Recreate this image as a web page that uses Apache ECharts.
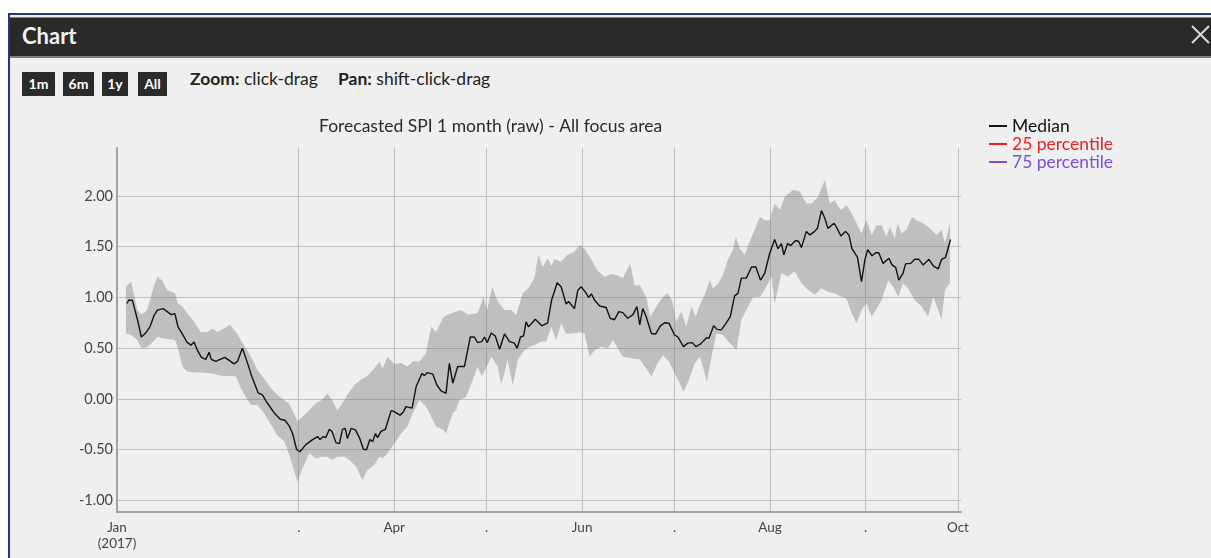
<!DOCTYPE html>
<html>
<head>
<meta charset="utf-8">
<script src="https://cdn.jsdelivr.net/npm/echarts@6/dist/echarts.min.js"></script>
<style>
html,body{margin:0;padding:0;width:1211px;height:558px;overflow:hidden;background:#fff;font-family:Lato,'Open Sans',sans-serif;}
#frame{position:absolute;left:8px;top:13px;width:1210px;height:545px;border-top:2px solid #213a78;border-left:2px solid #213a78;background:#efefef;}
#bar{position:absolute;left:10px;top:17px;width:1201px;height:38px;background:#2a2a2a;border-top:1px solid #7d7d7d;border-bottom:2px solid #7d7d7d;}
#bar .t{position:absolute;left:12px;top:5px;color:#f2f2f2;font-weight:bold;font-size:22px;line-height:26px;}
.btn{position:absolute;top:72px;height:24px;line-height:24px;background:#2b2b2b;color:#fff;font-weight:bold;font-size:14px;text-align:center;}
.hint{position:absolute;top:68px;font-size:17.5px;line-height:22px;color:#222;white-space:nowrap;}
.hint b{font-weight:bold;}
#close{position:absolute;left:1189px;top:24px;}
#chart{position:absolute;left:0;top:0;width:1211px;height:558px;z-index:2;}
</style>
</head>
<body>
<div id="frame"></div>
<div id="bar"><span class="t">Chart</span></div>
<svg id="close" width="22" height="22"><line x1="3" y1="2" x2="20" y2="19" stroke="#dcdcdc" stroke-width="2"/><line x1="20" y1="2" x2="3" y2="19" stroke="#dcdcdc" stroke-width="2"/></svg>
<div class="btn" style="left:22px;width:33px;">1m</div>
<div class="btn" style="left:63px;width:31px;">6m</div>
<div class="btn" style="left:102px;width:26px;">1y</div>
<div class="btn" style="left:138px;width:29px;">All</div>
<div class="hint" style="left:190px;"><b>Zoom:</b> click-drag</div>
<div class="hint" style="left:338px;"><b>Pan:</b> shift-click-drag</div>
<div id="chart"></div>
<script>
// Day offsets from 1 Jan 2017 (0 = 1 Jan 2017)
const tickDays = [0, 59, 90, 120, 151, 181, 212, 243, 273];
const tickLabels = ['Jan\n(2017)', '.', 'Apr', '.', 'Jun', '.', 'Aug', '.', 'Oct'];
const yTicks = [-1, -0.5, 0, 0.5, 1, 1.5, 2];
const chartTitle = 'Forecasted SPI 1 month (raw) - All focus area';
const seriesNames = ['Median', '25 percentile', '75 percentile'];

// [day, value]
const median = [[3.2,0.94],[3.9,0.975],[5.0,0.97],[5.8,0.88],[6.8,0.76],[7.9,0.61],[9.3,0.65],[10.7,0.71],[12.0,0.82],[13.1,0.875],[15.0,0.89],[16.3,0.86],[17.6,0.83],[18.8,0.84],[19.8,0.71],[21.2,0.64],[22.7,0.56],[24.0,0.53],[25.0,0.56],[26.1,0.48],[27.4,0.41],[28.8,0.39],[29.9,0.46],[30.6,0.39],[32.1,0.37],[33.5,0.39],[35.0,0.41],[36.4,0.38],[38.0,0.345],[39.1,0.37],[40.7,0.50],[42.2,0.37],[43.6,0.235],[45.8,0.06],[47.2,0.04],[48.8,-0.04],[51.0,-0.135],[53.0,-0.20],[54.5,-0.21],[55.9,-0.265],[57.0,-0.34],[58.3,-0.495],[59.4,-0.52],[61.3,-0.45],[63.5,-0.40],[65.1,-0.37],[65.9,-0.40],[67.0,-0.37],[67.8,-0.38],[68.9,-0.30],[69.8,-0.32],[71.1,-0.43],[72.2,-0.44],[73.2,-0.30],[74.1,-0.29],[74.8,-0.39],[76.0,-0.29],[77.4,-0.305],[78.7,-0.38],[80.0,-0.495],[81.0,-0.50],[82.1,-0.40],[83.0,-0.42],[83.9,-0.34],[84.6,-0.38],[85.7,-0.32],[87.1,-0.30],[89.0,-0.115],[90.0,-0.125],[91.9,-0.16],[93.0,-0.125],[93.8,-0.075],[95.8,-0.09],[97.1,0.12],[99.0,0.25],[99.8,0.23],[100.8,0.26],[102.5,0.245],[103.8,0.14],[105.2,0.08],[106.8,0.055],[107.9,0.35],[109.0,0.155],[110.6,0.32],[112.8,0.32],[114.7,0.61],[116.0,0.61],[117.1,0.555],[118.4,0.565],[119.3,0.61],[120.2,0.555],[121.5,0.65],[122.8,0.62],[124.2,0.49],[125.8,0.64],[127.4,0.565],[129.0,0.55],[129.9,0.50],[131.0,0.61],[132.0,0.62],[132.8,0.76],[133.6,0.71],[135.8,0.785],[137.9,0.72],[139.8,0.75],[141.1,0.975],[142.9,1.145],[144.2,1.105],[145.8,0.935],[146.6,0.96],[148.5,0.89],[149.6,1.07],[150.7,1.105],[152.0,1.055],[153.1,1.00],[154.0,1.035],[155.0,0.975],[156.7,0.915],[158.8,0.90],[160.1,0.795],[161.5,0.78],[162.9,0.86],[164.2,0.85],[165.8,0.795],[167.5,0.83],[168.8,0.91],[169.7,0.73],[170.7,0.89],[171.8,0.81],[173.5,0.645],[174.9,0.64],[176.4,0.72],[177.8,0.75],[179.2,0.745],[181.0,0.63],[182.1,0.61],[183.9,0.515],[185.3,0.55],[186.8,0.555],[187.9,0.515],[189.4,0.54],[191.3,0.60],[192.2,0.60],[193.7,0.72],[194.8,0.685],[196.2,0.68],[197.6,0.74],[199.1,0.81],[200.5,1.015],[201.6,1.04],[202.7,1.19],[204.3,1.19],[206.0,1.30],[207.4,1.30],[208.9,1.17],[210.3,1.24],[211.9,1.435],[213.5,1.57],[214.6,1.48],[215.7,1.53],[216.5,1.42],[217.7,1.53],[218.7,1.51],[220.3,1.56],[221.3,1.55],[222.2,1.49],[223.8,1.65],[224.9,1.615],[226.5,1.65],[227.4,1.68],[228.7,1.855],[229.8,1.78],[230.8,1.68],[232.8,1.73],[233.6,1.69],[235.0,1.605],[236.5,1.65],[237.6,1.615],[238.6,1.48],[240.4,1.395],[241.7,1.155],[242.8,1.37],[243.7,1.47],[245.1,1.41],[246.3,1.44],[247.3,1.44],[248.7,1.335],[250.6,1.385],[251.6,1.32],[252.8,1.295],[253.8,1.17],[255.2,1.24],[256.0,1.33],[257.7,1.335],[259.0,1.375],[260.3,1.375],[261.7,1.32],[263.6,1.375],[265.0,1.31],[266.6,1.28],[267.7,1.375],[269.0,1.395],[270.6,1.57]];

const p75 = [[2.9,1.105],[4.6,1.155],[6.6,0.875],[7.9,0.83],[9.8,0.875],[11.8,1.09],[13.1,1.205],[14.7,1.165],[16.3,1.07],[18.8,1.04],[19.8,0.94],[21.2,0.91],[22.8,0.845],[25.0,0.76],[27.2,0.66],[29.3,0.66],[31.0,0.695],[32.6,0.66],[34.8,0.695],[36.7,0.73],[38.6,0.66],[40.2,0.58],[41.8,0.50],[43.5,0.415],[45.6,0.285],[47.8,0.20],[50.0,0.105],[52.1,0.04],[54.3,-0.01],[55.9,-0.05],[58.6,-0.22],[60.2,-0.175],[62.4,-0.11],[64.6,-0.04],[66.5,-0.01],[68.3,0.055],[69.8,-0.01],[71.6,-0.11],[73.8,-0.01],[75.4,0.07],[77.6,0.155],[79.7,0.20],[81.3,0.225],[83.5,0.30],[85.2,0.37],[86.2,0.30],[87.8,0.415],[90.0,0.345],[92.2,0.355],[94.3,0.32],[96.0,0.37],[98.2,0.37],[100.3,0.45],[102.0,0.71],[103.6,0.66],[106.0,0.81],[109.0,0.85],[111.7,0.875],[113.8,0.83],[117.1,0.845],[119.0,1.005],[120.2,0.875],[121.8,1.105],[123.6,0.96],[125.8,0.875],[128.0,0.875],[129.6,0.83],[131.7,1.04],[133.9,1.105],[135.5,1.19],[136.8,1.42],[138.2,1.30],[139.8,1.385],[141.0,1.31],[142.0,1.375],[144.2,1.35],[146.3,1.42],[148.5,1.45],[150.2,1.515],[151.8,1.48],[154.0,1.37],[156.1,1.26],[158.3,1.20],[160.5,1.23],[162.1,1.22],[164.2,1.19],[166.6,1.335],[168.0,1.12],[169.7,1.12],[171.8,1.005],[173.1,0.81],[175.1,0.91],[177.2,1.005],[178.8,1.04],[180.3,0.96],[181.6,0.76],[183.2,0.86],[184.8,0.71],[186.5,0.91],[187.9,0.81],[189.4,0.94],[190.8,1.025],[192.4,1.17],[193.5,1.09],[195.1,1.135],[196.7,1.22],[198.3,1.37],[200.0,1.47],[200.9,1.60],[202.2,1.48],[203.8,1.42],[205.4,1.55],[207.0,1.665],[208.7,1.795],[210.3,1.76],[211.9,1.76],[213.5,1.925],[215.2,1.86],[216.8,1.99],[219.5,2.06],[221.7,2.04],[223.8,1.925],[225.5,1.925],[227.6,1.99],[229.8,2.155],[231.4,1.925],[233.0,1.96],[234.1,1.895],[235.2,1.86],[236.8,1.91],[238.5,1.83],[240.1,1.73],[241.7,1.63],[243.3,1.76],[245.0,1.615],[246.6,1.71],[248.2,1.71],[249.8,1.60],[250.9,1.695],[252.5,1.58],[253.4,1.73],[254.7,1.63],[256.3,1.665],[258.1,1.795],[259.6,1.76],[261.7,1.73],[263.9,1.68],[266.1,1.615],[267.7,1.665],[268.8,1.53],[270.4,1.73]];

const p25 = [[2.9,0.645],[4.6,0.63],[6.6,0.58],[7.9,0.50],[9.8,0.51],[11.8,0.565],[13.1,0.61],[14.7,0.60],[16.3,0.59],[18.8,0.58],[19.8,0.50],[21.2,0.32],[22.8,0.27],[25.0,0.26],[27.2,0.26],[29.3,0.255],[31.0,0.25],[32.6,0.235],[34.8,0.225],[36.7,0.225],[38.6,0.22],[40.2,0.105],[41.8,0.02],[43.5,-0.06],[45.6,-0.06],[47.8,-0.14],[50.0,-0.255],[52.1,-0.36],[54.3,-0.42],[55.9,-0.55],[58.6,-0.815],[60.2,-0.69],[62.4,-0.535],[64.6,-0.585],[66.5,-0.57],[68.3,-0.57],[69.8,-0.60],[71.6,-0.57],[73.8,-0.57],[75.4,-0.60],[77.6,-0.665],[79.7,-0.80],[81.3,-0.70],[83.5,-0.65],[85.2,-0.57],[86.2,-0.585],[87.8,-0.535],[90.0,-0.44],[92.2,-0.34],[94.3,-0.27],[96.0,-0.14],[98.2,-0.01],[100.3,-0.075],[102.0,-0.175],[103.6,-0.27],[106.0,-0.305],[106.8,-0.34],[109.0,-0.14],[110.1,-0.11],[111.2,-0.01],[113.3,0.02],[115.5,0.19],[117.1,0.32],[118.4,0.22],[119.8,0.30],[121.5,0.415],[123.6,0.32],[124.7,0.14],[125.8,0.26],[126.8,0.385],[128.5,0.13],[130.1,0.385],[132.3,0.48],[133.9,0.515],[135.5,0.53],[137.7,0.565],[139.3,0.565],[141.0,0.71],[142.6,0.58],[144.2,0.745],[145.8,0.645],[148.0,0.645],[150.2,0.66],[151.8,0.645],[153.4,0.415],[155.0,0.48],[157.2,0.515],[159.3,0.50],[161.0,0.58],[164.2,0.415],[166.9,0.40],[169.7,0.39],[171.8,0.30],[173.5,0.22],[175.1,0.33],[177.2,0.43],[179.2,0.37],[181.0,0.255],[182.7,0.155],[183.9,0.07],[185.7,0.19],[187.5,0.35],[189.2,0.415],[190.5,0.285],[191.5,0.17],[193.0,0.415],[194.6,0.645],[196.7,0.63],[198.9,0.55],[201.1,0.48],[202.7,0.78],[204.3,0.875],[206.5,1.005],[208.7,1.005],[210.8,1.105],[212.5,1.205],[213.5,0.94],[215.7,1.24],[217.8,1.205],[220.0,1.255],[222.2,1.14],[224.3,1.075],[226.5,1.025],[228.7,1.09],[230.8,1.055],[233.0,1.04],[235.2,1.005],[236.8,0.99],[238.5,0.845],[240.1,0.745],[241.7,0.875],[243.3,0.94],[245.0,0.81],[246.6,0.89],[248.2,0.975],[250.4,1.17],[252.0,1.105],[253.6,1.005],[255.2,1.14],[256.8,1.09],[259.0,0.975],[261.2,0.91],[263.3,0.81],[265.0,1.005],[266.6,0.875],[267.7,0.78],[268.8,1.075],[270.4,1.14]];

const chart = echarts.init(document.getElementById('chart'), null, {renderer: 'canvas'});
const labelFont = 'Lato, "Open Sans", sans-serif';
chart.setOption({
  animation: false,
  backgroundColor: 'transparent',
  textStyle: {fontFamily: labelFont},
  title: {
    text: chartTitle, left: 319, top: 117, padding: 0,
    textStyle: {fontSize: 17.5, fontWeight: 'normal', color: '#2a2a2a', fontFamily: labelFont}
  },
  legend: {
    orient: 'vertical', left: 989, top: 117, padding: 0, itemGap: 0,
    itemWidth: 18, itemHeight: 2, icon: 'rect', selectedMode: false,
    textStyle: {fontSize: 17.5, lineHeight: 17, fontFamily: labelFont},
    data: [
      {name: seriesNames[0], textStyle: {color: '#111111'}},
      {name: seriesNames[1], textStyle: {color: '#e8201e'}},
      {name: seriesNames[2], textStyle: {color: '#7a4fd6'}}
    ]
  },
  grid: {left: 117, right: 250, top: 148, bottom: 46},
  xAxis: {
    type: 'value', min: 0, max: 274,
    axisLine: {onZero: false, lineStyle: {color: '#a3a3a3', width: 2}},
    axisTick: {show: false, customValues: tickDays},
    axisLabel: {
      customValues: tickDays,
      formatter: v => tickLabels[tickDays.indexOf(v)],
      color: '#444', fontSize: 13.5, lineHeight: 16, margin: 8, fontFamily: labelFont
    },
    splitLine: {show: true, lineStyle: {color: '#bfbfbf', width: 1}}
  },
  yAxis: {
    type: 'value', min: -1.113, max: 2.471,
    axisLine: {show: true, onZero: false, lineStyle: {color: '#a3a3a3', width: 2}},
    axisTick: {show: false, customValues: yTicks},
    axisLabel: {
      customValues: yTicks,
      formatter: v => v.toFixed(2),
      color: '#444', fontSize: 14.5, margin: 4, fontFamily: labelFont
    },
    splitLine: {show: true, lineStyle: {color: '#bfbfbf', width: 1}}
  },
  series: [
    {
      type: 'custom', name: 'band', silent: true, z: 1,
      data: [[p25[0][0], p25[0][1]]],
      renderItem: (params, api) => {
        const pts = [];
        p75.forEach(p => pts.push(api.coord(p)));
        for (let i = p25.length - 1; i >= 0; i--) pts.push(api.coord(p25[i]));
        return {type: 'polygon', shape: {points: pts}, style: {fill: 'rgba(120,120,120,0.4)'}};
      }
    },
    {
      type: 'line', name: seriesNames[1], data: p25, symbol: 'none', silent: true,
      color: '#e8201e', itemStyle: {color: '#e8201e'}, lineStyle: {width: 0, color: '#e8201e'}
    },
    {
      type: 'line', name: seriesNames[2], data: p75, symbol: 'none', silent: true,
      color: '#7a4fd6', itemStyle: {color: '#7a4fd6'}, lineStyle: {width: 0, color: '#7a4fd6'}
    },
    {
      type: 'line', name: seriesNames[0], data: median, symbol: 'none', silent: true, z: 3,
      color: '#111111', itemStyle: {color: '#111111'}, lineStyle: {width: 1.4, color: '#111111'}
    }
  ]
});
</script>
</body>
</html>
